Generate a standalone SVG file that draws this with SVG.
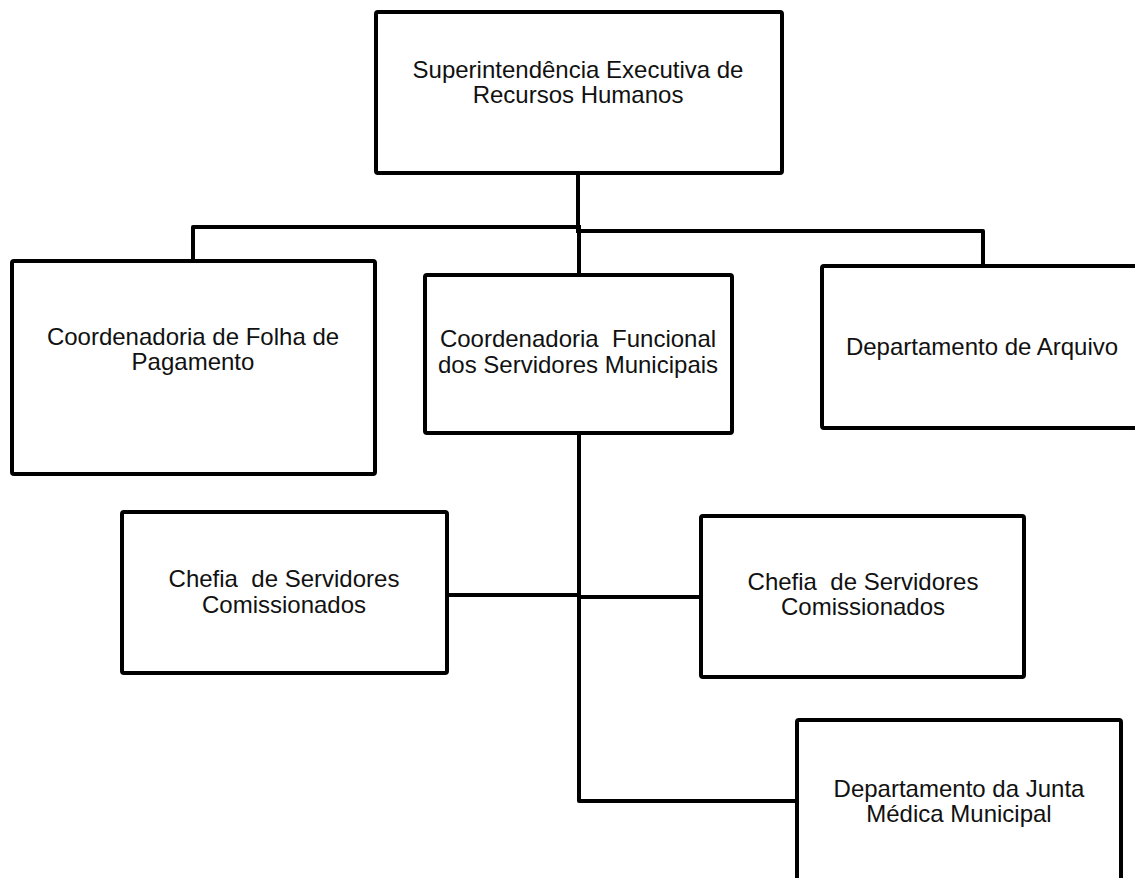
<svg xmlns="http://www.w3.org/2000/svg" width="1135" height="878" viewBox="0 0 1135 878">
<style>
.box{fill:#fff;stroke:#000;stroke-width:4;stroke-linejoin:round}
.ln{fill:none;stroke:#000;stroke-width:4;stroke-linejoin:round;stroke-linecap:square}
text{font-family:"Liberation Sans",Arial,sans-serif;font-size:24px;fill:#111;text-anchor:middle;white-space:pre}
</style>
<rect width="1135" height="878" fill="#fff"/>
<g id="connectors">
<path class="ln" d="M578,175 V227 M193,259 V227 H578 M578,231 H983 V264 M579,227 V273"/>
<path class="ln" d="M579,435 V801 H795 M449,595 H579 M579,597 H699"/>
</g>
<g id="n-super">
<rect class="box" x="376" y="12" width="406" height="161" rx="2"/>
<text x="578" y="78">Superintendência Executiva de</text>
<text x="578" y="103">Recursos Humanos</text>
</g>
<g id="n-folha">
<rect class="box" x="12" y="261" width="363" height="213" rx="2"/>
<text x="193" y="345">Coordenadoria de Folha de</text>
<text x="193" y="370">Pagamento</text>
</g>
<g id="n-funcional">
<rect class="box" x="425" y="275" width="307" height="158" rx="2"/>
<text x="578" y="347">Coordenadoria  Funcional</text>
<text x="578" y="373">dos Servidores Municipais</text>
</g>
<g id="n-arquivo">
<rect class="box" x="822" y="266" width="322" height="162" rx="2"/>
<text x="982" y="355">Departamento de Arquivo</text>
</g>
<g id="n-chefia1">
<rect class="box" x="122" y="512" width="325" height="161" rx="2"/>
<text x="284" y="587">Chefia  de Servidores</text>
<text x="284" y="613">Comissionados</text>
</g>
<g id="n-chefia2">
<rect class="box" x="701" y="516" width="323" height="161" rx="2"/>
<text x="863" y="590">Chefia  de Servidores</text>
<text x="863" y="615">Comissionados</text>
</g>
<g id="n-junta">
<rect class="box" x="797" y="720" width="324" height="200" rx="2"/>
<text x="959" y="797">Departamento da Junta</text>
<text x="959" y="822">Médica Municipal</text>
</g>
</svg>
